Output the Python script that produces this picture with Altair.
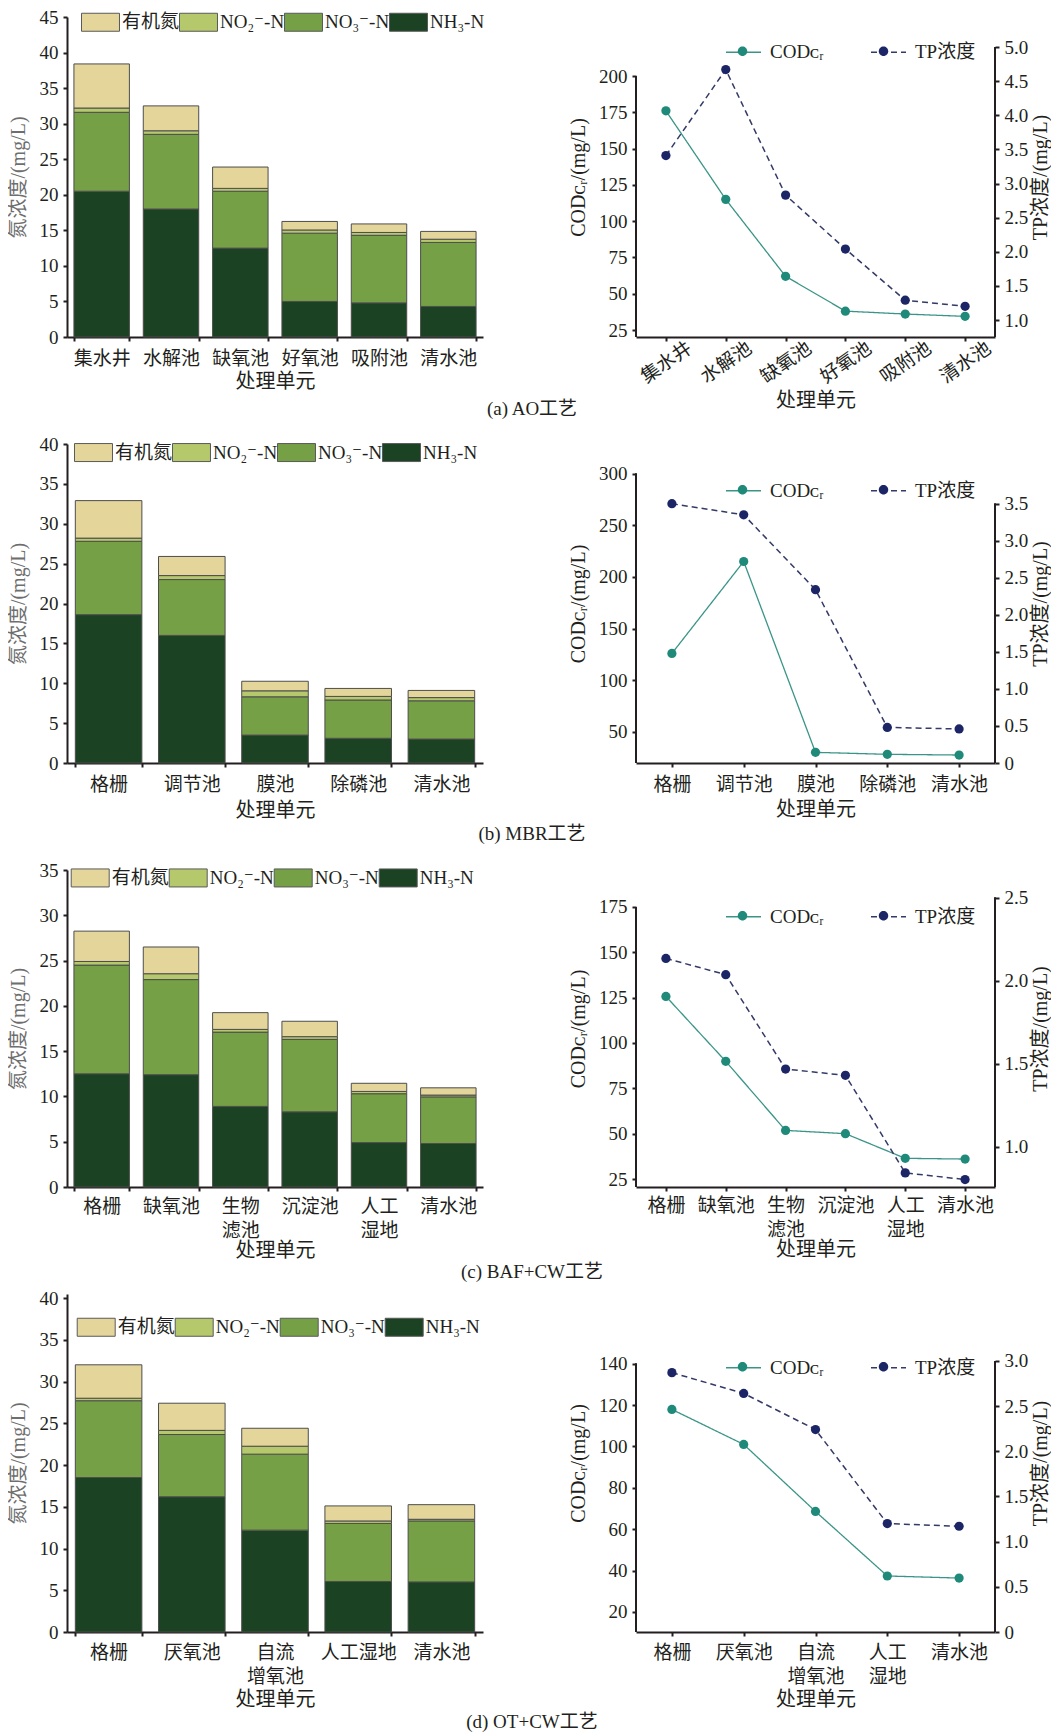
import altair as alt
import pandas as pd

FONT = "Liberation Serif, DejaVu Serif, Noto Sans CJK SC"
INK = "#231f20"

# ---------------- legend / series names ----------------
COMPONENTS = ["有机氮", "NO₂⁻-N", "NO₃⁻-N", "NH₃-N"]
COMP_COLORS = ["#e4d59b", "#b6c86c", "#76a046", "#1b4222"]
STACK_ORDER = {"NH₃-N": 0, "NO₃⁻-N": 1, "NO₂⁻-N": 2, "有机氮": 3}
COD_LABEL = "CODᴄᵣ"
TP_LABEL = "TP浓度"
ZW = "\u200b"  # keeps the marker legend separate from the line legend
LINE_COLORS = ["#3a9588", "#333a68"]
POINT_COLORS = ["#1f8a7a", "#1c2566"]

# ---------------- (a) AO工艺 ----------------
cats_a = ["集水井", "水解池", "缺氧池", "好氧池", "吸附池", "清水池"]
nh3_a = [20.5, 18.0, 12.5, 5.0, 4.8, 4.3]
no3_a = [11.1, 10.5, 8.0, 9.6, 9.5, 9.0]
no2_a = [0.6, 0.5, 0.4, 0.45, 0.4, 0.45]
org_a = [6.2, 3.5, 3.0, 1.2, 1.2, 1.1]
cod_a = [176, 115, 62, 38, 36, 34.4]
tp_a = [3.41, 4.67, 2.83, 2.04, 1.29, 1.20]

# ---------------- (b) MBR工艺 ----------------
cats_b = ["格栅", "调节池", "膜池", "除磷池", "清水池"]
nh3_b = [18.6, 16.0, 3.5, 3.1, 3.0]
no3_b = [9.2, 7.0, 4.8, 4.8, 4.8]
no2_b = [0.4, 0.5, 0.75, 0.45, 0.4]
org_b = [4.7, 2.4, 1.2, 1.0, 0.9]
cod_b = [126, 215, 30.3, 28.4, 27.7]
tp_b = [3.50, 3.35, 2.34, 0.48, 0.46]

# ---------------- (c) BAF+CW工艺 ----------------
cats_c = ["格栅", "缺氧池", "生物\n滤池", "沉淀池", "人工\n湿地", "清水池"]
nh3_c = [12.5, 12.4, 8.9, 8.3, 4.9, 4.8]
no3_c = [12.0, 10.5, 8.2, 8.0, 5.4, 5.15]
no2_c = [0.4, 0.65, 0.3, 0.3, 0.25, 0.2]
org_c = [3.35, 2.95, 1.85, 1.7, 0.9, 0.8]
cod_c = [125.7, 89.9, 51.8, 50.0, 36.4, 36.0]
tp_c = [2.135, 2.037, 1.469, 1.431, 0.844, 0.804]

# ---------------- (d) OT+CW工艺 ----------------
cats_d_bar = ["格栅", "厌氧池", "自流\n增氧池", "人工湿地", "清水池"]
cats_d_line = ["格栅", "厌氧池", "自流\n增氧池", "人工\n湿地", "清水池"]
nh3_d = [18.5, 16.2, 12.2, 6.05, 6.0]
no3_d = [9.2, 7.45, 9.1, 6.95, 7.3]
no2_d = [0.3, 0.5, 0.95, 0.3, 0.2]
org_d = [4.0, 3.25, 2.15, 1.8, 1.75]
cod_d = [117.9, 101, 68.6, 37.4, 36.4]
tp_d = [2.87, 2.64, 2.24, 1.20, 1.17]

captions = ["(a) AO工艺", "(b) MBR工艺", "(c) BAF+CW工艺", "(d) OT+CW工艺"]

BAR_W = 416
LINE_W = 359
RECT_PATH = "M-2.11,-1H2.11V1H-2.11Z"
DOT_PATH = "M0.27,0A0.27,0.27,0,1,1,-0.27,0A0.27,0.27,0,1,1,0.27,0Z"
SPLIT = "split(datum.label, '\\n')"


def bar_panel(cats, nh3, no3, no2, org, ymax, yvals, height, lx, ly, caption, cap_off,
              lab_pad, title_pad):
    rows = []
    for i, c in enumerate(cats):
        for comp, arr in (("NH₃-N", nh3), ("NO₃⁻-N", no3), ("NO₂⁻-N", no2), ("有机氮", org)):
            rows.append({"cat": c, "comp": comp, "val": arr[i], "ord": STACK_ORDER[comp]})
    df = pd.DataFrame(rows)
    return alt.Chart(df).mark_bar(stroke="#4d4d4d", strokeWidth=1).encode(
        x=alt.X("cat:N", sort=cats, title="处理单元",
                scale=alt.Scale(paddingInner=0.2, paddingOuter=0.1),
                axis=alt.Axis(labelAngle=0, tickBand="extent", labelExpr=SPLIT,
                              labelPadding=lab_pad, labelLineHeight=24,
                              titlePadding=title_pad)),
        y=alt.Y("val:Q", stack="zero", title="氮浓度/(mg/L)",
                scale=alt.Scale(domain=[0, ymax], nice=False, zero=True),
                axis=alt.Axis(values=yvals, labelPadding=5, titlePadding=11,
                              titleColor="#6e6e6e")),
        color=alt.Color("comp:N", scale=alt.Scale(domain=COMPONENTS, range=COMP_COLORS),
                        legend=alt.Legend(title=None, orient="none", direction="horizontal",
                                          legendX=lx, legendY=ly, symbolType=RECT_PATH,
                                          symbolSize=324, symbolStrokeColor="#5a5a5a",
                                          symbolStrokeWidth=1, symbolOpacity=1,
                                          labelOffset=12, columnPadding=-3, padding=0)),
        order=alt.Order("ord:Q", sort="ascending"),
    ).properties(
        width=BAR_W, height=height,
        title=alt.TitleParams(text=caption, orient="bottom", anchor="middle",
                              dx=257, offset=cap_off, fontSize=19, font=FONT,
                              fontWeight="normal", color=INK),
    )


def line_panel(cats, cod, tp, ldom, rdom, lvals, rvals, ltop, rtop, height, ly,
               lab_pad, title_pad, rotate=False):
    cod_df = pd.DataFrame({"cat": cats, "value": cod, "s": COD_LABEL, "sp": COD_LABEL + ZW})
    tp_df = pd.DataFrame({"cat": cats, "value": tp, "s": TP_LABEL, "sp": TP_LABEL + ZW})
    if rotate:
        xaxis = alt.Axis(labelAngle=325, labelAlign="center", labelBaseline="middle",
                         labelPadding=lab_pad, titlePadding=title_pad)
    else:
        xaxis = alt.Axis(labelAngle=0, labelExpr=SPLIT, labelPadding=lab_pad,
                         labelLineHeight=24, titlePadding=title_pad)
    xenc = alt.X("cat:N", sort=cats, title="处理单元",
                 scale=alt.Scale(type="point", padding=0.5), axis=xaxis)
    leg_common = dict(title=None, orient="none", direction="horizontal", legendX=89,
                      legendY=ly, symbolSize=1225, labelOffset=8, columnPadding=44,
                      padding=0)
    dom = [COD_LABEL, TP_LABEL]
    color = alt.Color("s:N", scale=alt.Scale(domain=dom, range=LINE_COLORS),
                      legend=alt.Legend(symbolType="stroke", symbolStrokeWidth=1.5,
                                        **leg_common))
    dash = alt.StrokeDash("s:N", scale=alt.Scale(domain=dom, range=[[1, 0], [6, 4]]),
                          legend=alt.Legend(symbolType="stroke", symbolStrokeWidth=1.5,
                                            **leg_common))
    fill = alt.Fill("sp:N", scale=alt.Scale(domain=[d + ZW for d in dom], range=POINT_COLORS),
                    legend=alt.Legend(symbolType=DOT_PATH, symbolStrokeWidth=0,
                                      labelOpacity=0, symbolOpacity=1, **leg_common))
    rlabel = "datum.value == 0 ? '0' : format(datum.value, '.1f')"

    def lscale():
        return alt.Scale(domain=ldom, nice=False, zero=False)

    def rscale():
        return alt.Scale(domain=rdom, nice=False, zero=False)

    layers = [
        alt.Chart(cod_df).mark_line(strokeWidth=1.3).encode(
            x=xenc,
            y=alt.Y("value:Q", scale=lscale(), title=COD_LABEL + "/(mg/L)",
                    axis=alt.Axis(orient="left", values=lvals, domain=False,
                                  labelPadding=5, titlePadding=10)),
            color=color, strokeDash=dash),
        alt.Chart(cod_df).mark_circle(size=85, opacity=1).encode(
            x=xenc, y=alt.Y("value:Q", scale=lscale(), axis=None), fill=fill),
        alt.Chart(cod_df).mark_rule(color=INK, strokeWidth=2).encode(
            x=alt.value(0),
            y=alt.YDatum(ltop, scale=lscale(), axis=None),
            y2=alt.Y2Datum(ldom[0])),
        alt.Chart(tp_df).mark_line(strokeWidth=1.5).encode(
            x=xenc,
            y=alt.Y("value:Q", scale=rscale(), title="TP浓度/(mg/L)",
                    axis=alt.Axis(orient="right", values=rvals, domain=False,
                                  labelExpr=rlabel, labelPadding=5, titlePadding=3,
                                  titleAngle=270, titleBaseline="top")),
            color=color, strokeDash=dash),
        alt.Chart(tp_df).mark_circle(size=85, opacity=1).encode(
            x=xenc, y=alt.Y("value:Q", scale=rscale(), axis=None), fill=fill),
        alt.Chart(tp_df).mark_rule(color=INK, strokeWidth=2).encode(
            x=alt.value(LINE_W),
            y=alt.YDatum(rtop, scale=rscale(), axis=None),
            y2=alt.Y2Datum(rdom[0])),
    ]
    return alt.layer(*layers).resolve_scale(y="independent").properties(
        width=LINE_W, height=height)


panels = [
    bar_panel(cats_a, nh3_a, no3_a, no2_a, org_a, 45, list(range(0, 46, 5)), 320,
              24, -4.5, captions[0], 9, 8, 3),
    line_panel(cats_a, cod_a, tp_a, [20.18, 240.65], [0.751, 5.44],
               [25, 50, 75, 100, 125, 150, 175, 200],
               [1.0, 1.5, 2.0, 2.5, 3.0, 3.5, 4.0, 4.5, 5.0], 200, 5.0, 320, 16.5,
               21, 4, rotate=True),
    bar_panel(cats_b, nh3_b, no3_b, no2_b, org_b, 40, list(range(0, 41, 5)), 319,
              17, -1.2, captions[1], 5, 8, 6),
    line_panel(cats_b, cod_b, tp_b, [20.0, 328.7], [0.0, 4.306],
               [50, 100, 150, 200, 250, 300],
               [0, 0.5, 1.0, 1.5, 2.0, 2.5, 3.0, 3.5], 300, 3.5, 319, 28, 8, 5),
    bar_panel(cats_c, nh3_c, no3_c, no2_c, org_c, 35, list(range(0, 36, 5)), 317,
              13.7, -1.8, captions[2], 3, 6, 0),
    line_panel(cats_c, cod_c, tp_c, [20.59, 195.4], [0.759, 2.667],
               [25, 50, 75, 100, 125, 150, 175],
               [1.0, 1.5, 2.0, 2.5], 175, 2.5, 317, 28, 5, 0),
    bar_panel(cats_d_bar, nh3_d, no3_d, no2_d, org_d, 40.48, list(range(0, 41, 5)), 338,
              19.7, 23.5, captions[3], 4, 7, 3),
    line_panel(cats_d_line, cod_d, tp_d, [10.33, 173.7], [0.0, 3.74],
               [20, 40, 60, 80, 100, 120, 140],
               [0, 0.5, 1.0, 1.5, 2.0, 2.5, 3.0], 140, 3.0, 338, 55, 7, 3),
]

chart = alt.concat(
    *panels, columns=2, spacing={"row": 107, "column": 153}, bounds="flush", align="each"
).resolve_scale(
    color="independent", fill="independent", strokeDash="independent"
).properties(
    padding={"left": 0, "top": 0, "right": 0, "bottom": 0}
).configure_axis(
    labelFont=FONT, titleFont=FONT, labelFontSize=19, titleFontSize=20,
    labelColor=INK, titleColor=INK, titleFontWeight="normal",
    domainColor=INK, domainWidth=2, tickColor=INK, tickWidth=2, tickSize=4, grid=False,
).configure_legend(
    labelFont=FONT, labelFontSize=19, labelColor=INK,
).configure_view(stroke=None)

chart.save("out.html", embed_options={"renderer": "svg", "actions": False})
